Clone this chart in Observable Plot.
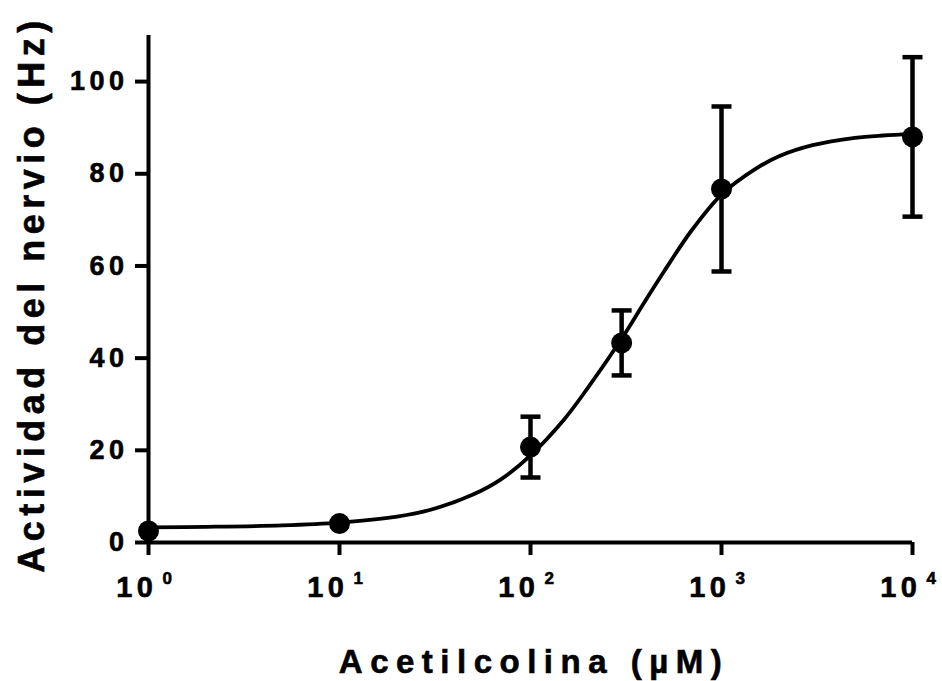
<!DOCTYPE html>
<html><head><meta charset="utf-8">
<script src="https://cdn.jsdelivr.net/npm/d3@7"></script>
<script src="https://cdn.jsdelivr.net/npm/@observablehq/plot@0.6"></script>
<style>
html,body{margin:0;padding:0;background:#fff;}
svg{display:block;}
svg text{font-family:"Liberation Sans",Arial,Helvetica,sans-serif;font-weight:bold;stroke:black;stroke-width:0.6px;}
</style></head><body><div id="chart"></div>
<script>
// Measured data (Acetilcolina concentration in µM, mean ± SEM)
const conc = [1, 10, 100, 300, 1000, 10000];
const mean = [2.5, 4.1, 20.7, 43.3, 76.7, 88.0];
const sem  = [0, 0, 6.6, 7.05, 17.9, 17.3];

// Fitted curve
const curveX = [1, 2, 5, 10, 20, 30, 50, 70, 100, 150, 200, 300, 400, 500, 700, 1000, 1500, 2000, 3000, 5000, 7000, 10000];
const curveY = [3.3, 3.4, 3.7, 4.3, 5.6, 7.1, 10.4, 13.7, 18.9, 26.7, 33.6, 44.2, 52.5, 58.8, 67.8, 75.5, 81.0, 83.8, 86.2, 87.8, 88.3, 88.6];

// Axis ticks
const xTicks = [1, 10, 100, 1000, 10000];
const xTickBase = ["10", "10", "10", "10", "10"];
const xTickExp = ["0", "1", "2", "3", "4"];
const yTicks = [0, 20, 40, 60, 80, 100];

const xTitle = "Acetilcolina (µM)";
const yTitle = "Actividad del nervio (Hz)";

const W = 942, H = 681;
const mL = 148, mR = 30, mT = 35, mB = 139;

const points = conc.map((c, i) => ({c, m: mean[i], s: sem[i]}));
const bars = points.filter(d => d.s > 0).map(d => ({c: d.c, lo: d.m - d.s, hi: d.m + d.s}));
const curve = curveX.map((x, i) => ({x, y: curveY[i]}));

const capSymbol = {
  draw(ctx, size) {
    const r = Math.sqrt(size / Math.PI);
    ctx.moveTo(-r, 0);
    ctx.lineTo(r, 0);
  }
};

const svg = Plot.plot({
  width: W, height: H,
  marginLeft: mL, marginRight: mR, marginTop: mT, marginBottom: mB,
  style: {background: "white", overflow: "visible", color: "black"},
  x: {type: "log", domain: [1, 10000]},
  y: {domain: [0, 110]},
  marks: [
    Plot.axisY(yTicks, {anchor: "left", tickSize: 13, strokeWidth: 4, stroke: "black", fill: "none", label: null}),
    Plot.axisX(xTicks, {anchor: "bottom", tickSize: 13, strokeWidth: 4, stroke: "black", fill: "none", label: null}),
    Plot.ruleY([0], {stroke: "black", strokeWidth: 4}),
    Plot.ruleX([1], {y1: 0, y2: 110, stroke: "black", strokeWidth: 4}),
    Plot.text(yTicks, {y: d => d, frameAnchor: "left", dx: -20, textAnchor: "end", text: d => String(d), fontSize: 27, fill: "black"}),
    Plot.text(xTicks, {x: d => d, frameAnchor: "bottom", dy: 54, dx: 9, textAnchor: "end", text: (d, i) => xTickBase[i], fontSize: 29, fill: "black"}),
    Plot.text(xTicks, {x: d => d, frameAnchor: "bottom", dy: 41, dx: 14, textAnchor: "start", text: (d, i) => xTickExp[i], fontSize: 17, fill: "black"}),
    Plot.line(curve, {x: "x", y: "y", curve: "catmull-rom", stroke: "black", strokeWidth: 3.8}),
    Plot.ruleX(bars, {x: "c", y1: "lo", y2: "hi", stroke: "black", strokeWidth: 4.5}),
    Plot.dot(bars, {x: "c", y: "hi", symbol: capSymbol, r: 10, stroke: "black", strokeWidth: 4.5, fill: "none"}),
    Plot.dot(bars, {x: "c", y: "lo", symbol: capSymbol, r: 10, stroke: "black", strokeWidth: 4.5, fill: "none"}),
    Plot.dot(points, {x: "c", y: "m", r: 10.5, fill: "black", stroke: "none"})
  ]
});

const s = d3.select(svg);
s.selectAll("text").style("letter-spacing", "4.5px");

const cx = (mL + W - mR) / 2;
s.append("text")
  .attr("x", cx + 4).attr("y", 673)
  .attr("text-anchor", "middle")
  .style("font-size", "33px").style("letter-spacing", "7.5px")
  .attr("fill", "black")
  .text(xTitle);

const cy = 294;
s.append("text")
  .attr("transform", `translate(44,${cy}) rotate(-90)`)
  .attr("text-anchor", "middle")
  .style("font-size", "36px").style("letter-spacing", "5.5px")
  .attr("fill", "black")
  .text(yTitle);

document.getElementById("chart").appendChild(svg);
</script>
</body></html>
